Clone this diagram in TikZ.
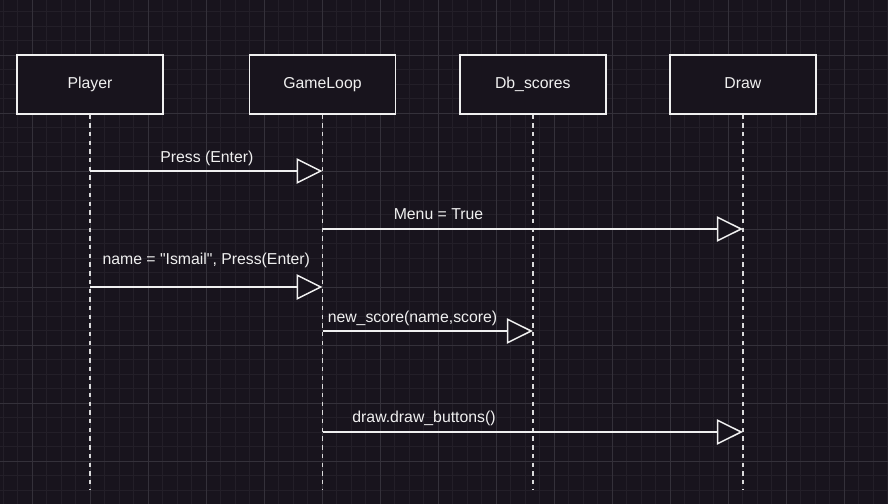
\documentclass[tikz,border=0pt]{standalone}
\usepackage{fontspec}
\setmainfont{Liberation Sans}[Ligatures=TeXOff]
\usetikzlibrary{arrows.meta,calc}
\definecolor{bgc}{HTML}{18141D}
\definecolor{gridminor}{HTML}{231F28}
\definecolor{gridmajor}{HTML}{34313A}
\definecolor{fg}{HTML}{F0F0F0}
\tikzset{
  actor/.style={draw=fg, fill=bgc, line width=1.6bp, minimum width=146bp, minimum height=58.5bp, inner sep=0pt},
  txt/.style={text=fg, font=\fontsize{15.8bp}{19bp}\selectfont, inner sep=0pt},
  lifeline/.style={draw=fg!90!bgc, line width=1.5bp, dash pattern=on 4.35bp off 4.35bp},
  msg/.style={draw=fg, line width=1.5bp, -{Triangle[length=26bp,width=25.5bp,fill=bgc,line width=1.5bp]}},
}
\begin{document}
\begin{tikzpicture}[x=1bp,y=-1bp]
\useasboundingbox (0,0) rectangle (888,504);
\fill[bgc] (0,0) rectangle (888,504);
% grid
\foreach \i in {0,...,61} \draw[gridminor, line width=0.8bp] (3+14.5*\i,0) -- (3+14.5*\i,504);
\foreach \i in {0,...,34} \draw[gridminor, line width=0.8bp] (0,11.5+14.5*\i) -- (888,11.5+14.5*\i);
\foreach \i in {0,...,15} \draw[gridmajor, line width=0.9bp] (32+58*\i,0) -- (32+58*\i,504);
\foreach \i in {0,...,9} \draw[gridmajor, line width=0.9bp] (0,-3+58*\i) -- (888,-3+58*\i);
% actors
\node[actor] (player) at (90,84.5) {};
\node[actor] (game) at (322.5,84.5) {};
\node[actor] (db) at (532.8,84.5) {};
\node[actor] (drw) at (742.8,84.5) {};
\node[txt, anchor=base] (tplayer) at (90,88.3) {Player};
\node[txt, anchor=base] (tgame) at (322.5,88.3) {GameLoop};
\node[txt, anchor=base] (tdb) at (532.8,88.3) {Db\_scores};
\node[txt, anchor=base] (tdrw) at (742.8,88.3) {Draw};
% lifeline ends
\coordinate (ylife) at (0,489);
\coordinate (eplayer) at (player.south |- ylife);
\coordinate (egame) at (game.south |- ylife);
\coordinate (edb) at (db.south |- ylife);
\coordinate (edrw) at (drw.south |- ylife);
\draw[lifeline] (player.south) -- (eplayer);
\draw[lifeline] (game.south) -- (egame);
\draw[lifeline] (db.south) -- (edb);
\draw[lifeline] (drw.south) -- (edrw);
% message rows
\coordinate (r1) at (0,171);
\coordinate (r2) at (0,229);
\coordinate (r3) at (0,287);
\coordinate (r4) at (0,331);
\coordinate (r5) at (0,432);
\draw[msg] (player.south |- r1) -- (game.south |- r1);
\draw[msg] (game.south |- r2) -- (drw.south |- r2);
\draw[msg] (player.south |- r3) -- (game.south |- r3);
\draw[msg] (game.south |- r4) -- (db.south |- r4);
\draw[msg] (game.south |- r5) -- (drw.south |- r5);
% labels
\node[txt, anchor=base] (l1) at (206.8,162.6) {Press (Enter)};
\node[txt, anchor=base] (l2) at (438.5,220) {Menu = True};
\node[txt, anchor=base] (l3) at (206.3,265) {name = "Ismail", Press(Enter)};
\node[txt, anchor=base] (l4) at (412.5,322.3) {new\_score(name,score)};
\node[txt, anchor=base] (l5) at (424,422.7) {draw.draw\_buttons()};
\end{tikzpicture}
\end{document}
